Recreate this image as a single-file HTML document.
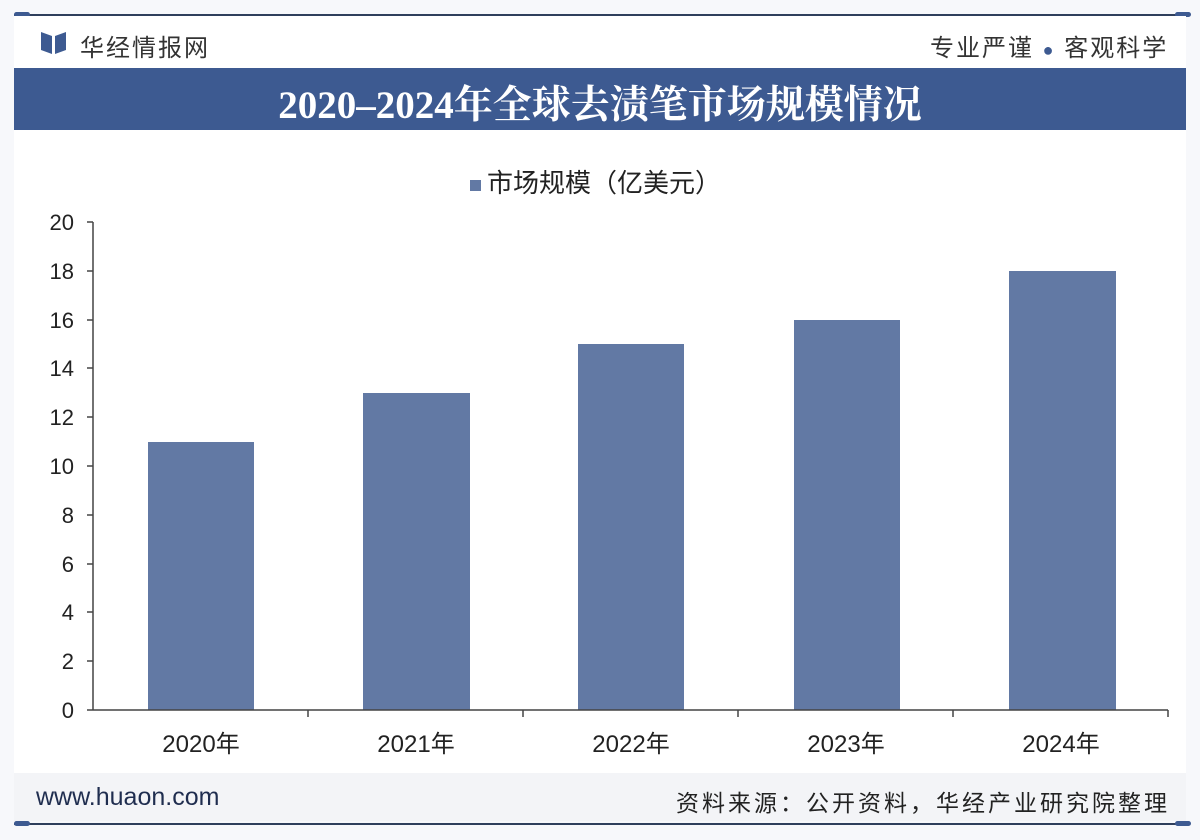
<!DOCTYPE html>
<html><head><meta charset="utf-8"><style>
body{margin:0;width:1200px;height:840px;background:#fff;position:relative;overflow:hidden;font-family:"Liberation Sans","Noto Sans CJK SC",sans-serif;}
.a{position:absolute}
</style></head><body>
<div class="a" style="left:0;top:0;width:1200px;height:840px;background:#f7f8fb"></div>
<div class="a" style="left:14px;top:14px;width:1172px;height:2px;background:#2f3f5c"></div>
<div class="a" style="left:14px;top:12px;width:16px;height:5px;border-radius:3px;background:#3d5a91"></div>
<div class="a" style="left:1175px;top:12px;width:16px;height:5px;border-radius:3px;background:#3d5a91"></div>
<div class="a" style="left:14px;top:823px;width:1172px;height:2px;background:#2f3f5c"></div>
<div class="a" style="left:14px;top:821px;width:16px;height:5px;border-radius:3px;background:#3d5a91"></div>
<div class="a" style="left:1175px;top:821px;width:16px;height:5px;border-radius:3px;background:#3d5a91"></div>
<div class="a" style="left:14px;top:16px;width:1172px;height:805px;background:#fff"></div>
<svg class="a" style="left:40px;top:30px" width="28" height="26"><path d="M1 2 L12 6 L12 24 L1 20Z M15 6 L26 2 L26 20 L15 24Z" fill="#3d5a91"/></svg>
<div class="a" style="left:80px;top:28px;font-size:24px;color:#333;letter-spacing:2px">华经情报网</div>
<div class="a" style="left:930px;top:28px;font-size:24px;color:#333;letter-spacing:2px">专业严谨 <span style="color:#3d5a91;font-size:18px">●</span> 客观科学</div>
<div class="a" style="left:14px;top:68px;width:1172px;height:62px;background:#3d5a91"></div>
<div class="a" style="left:14px;top:74px;width:1172px;text-align:center;font-family:'Liberation Serif','Noto Serif CJK SC',serif;font-weight:bold;font-size:39px;color:#fff">2020–2024年全球去渍笔市场规模情况</div>
<div class="a" style="left:470px;top:163px;font-size:26px;color:#222"><span style="display:inline-block;width:11px;height:11px;background:#6279a4;margin-right:6px;vertical-align:middle"></span>市场规模（亿美元）</div>
<svg class="a" style="left:0;top:0" width="1200" height="840" font-family="Liberation Sans, Noto Sans CJK SC, sans-serif">
<g fill="#6279a4">
<rect x="148" y="442" width="106" height="268"/>
<rect x="363" y="393" width="107" height="317"/>
<rect x="578" y="344" width="106" height="366"/>
<rect x="794" y="320" width="106" height="390"/>
<rect x="1009" y="271" width="107" height="439"/>
</g>
<g stroke="#444" stroke-width="1.5">
<line x1="93" y1="222" x2="93" y2="710"/>
<line x1="93" y1="710" x2="1168" y2="710"/>
<line x1="87" y1="222" x2="93" y2="222"/><line x1="87" y1="271" x2="93" y2="271"/><line x1="87" y1="320" x2="93" y2="320"/><line x1="87" y1="368" x2="93" y2="368"/><line x1="87" y1="417" x2="93" y2="417"/><line x1="87" y1="466" x2="93" y2="466"/><line x1="87" y1="515" x2="93" y2="515"/><line x1="87" y1="564" x2="93" y2="564"/><line x1="87" y1="612" x2="93" y2="612"/><line x1="87" y1="661" x2="93" y2="661"/><line x1="87" y1="710" x2="93" y2="710"/>
<line x1="308" y1="710" x2="308" y2="717"/><line x1="523" y1="710" x2="523" y2="717"/><line x1="738" y1="710" x2="738" y2="717"/><line x1="953" y1="710" x2="953" y2="717"/><line x1="1168" y1="710" x2="1168" y2="717"/>
</g>
<g font-size="22" fill="#222" text-anchor="end">
<text x="74" y="230">20</text><text x="74" y="279">18</text><text x="74" y="328">16</text><text x="74" y="376">14</text><text x="74" y="425">12</text><text x="74" y="474">10</text><text x="74" y="523">8</text><text x="74" y="572">6</text><text x="74" y="620">4</text><text x="74" y="669">2</text><text x="74" y="718">0</text>
</g>
<g font-size="24" fill="#222" text-anchor="middle">
<text x="201" y="752">2020年</text><text x="416" y="752">2021年</text><text x="631" y="752">2022年</text><text x="846" y="752">2023年</text><text x="1061" y="752">2024年</text>
</g>
</svg>
<div class="a" style="left:14px;top:773px;width:1172px;height:48px;background:#f3f4f7"></div>
<div class="a" style="left:36px;top:783px;font-size:25px;color:#1f2d4f">www.huaon.com</div>
<div class="a" style="left:676px;top:784px;font-size:23px;color:#222;letter-spacing:3px">资料来源：公开资料，华经产业研究院整理</div>
</body></html>
